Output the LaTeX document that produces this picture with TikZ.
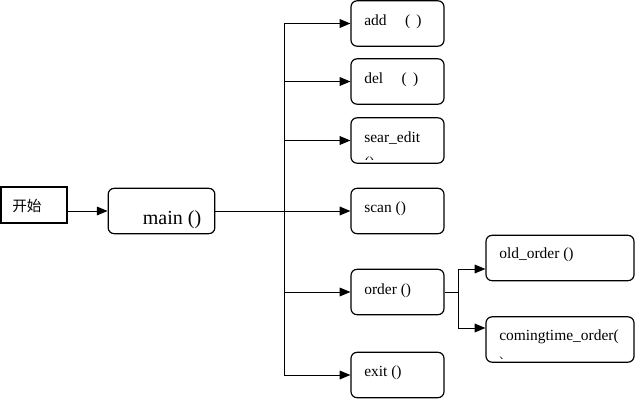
\documentclass[tikz,border=0pt]{standalone}
\usepackage{fontspec}
\setmainfont{Liberation Serif}
\newfontfamily\cjk{Noto Sans CJK SC}
\usetikzlibrary{arrows.meta}
\begin{document}
\begin{tikzpicture}[x=0.75pt,y=-0.75pt,
  box/.style={draw=black,line width=0.9pt,rounded corners=4.5pt,minimum width=69.75pt,minimum height=34pt,inner sep=0pt},
  wbox/.style={draw=black,line width=0.9pt,rounded corners=4.5pt,minimum width=111pt,minimum height=34pt,inner sep=0pt},
  lbl/.style={anchor=west,inner sep=0pt,font=\fontsize{11.6pt}{13pt}\selectfont},
  ln/.style={line width=0.75pt},
  arr/.style={line width=0.75pt,-{Triangle[length=8pt,width=6.5pt]}}]
\useasboundingbox (0,0) rectangle (636,400);
% start and main
\node[draw=black,line width=1.5pt,minimum width=49.5pt,minimum height=26.5pt,inner sep=0pt] (start) at (33.5,205) {};
\node[lbl,font=\cjk\fontsize{11pt}{13pt}\selectfont] (startt) at (12,206) {开始};
\node[box,minimum width=80pt] (main) at (161.5,211) {};
\node[inner sep=0pt,font=\fontsize{15pt}{17pt}\selectfont] (maint) at (172,220) {main ()};
% right column
\node[box] (add) at (397.5,23.5) {};
\node[box] (del) at (397.5,81.5) {};
\node[box] (sear) at (397.5,140.5) {};
\node[box] (scan) at (397.5,211) {};
\node[box] (order) at (397.5,292) {};
\node[box] (exit) at (397.5,375) {};
\node[lbl] (addt) at (364,21.5) {add\hspace{1.2em}(\hspace{0.4em})};
\node[lbl] (delt) at (364,79.5) {del\hspace{1.2em}(\hspace{0.4em})};
\node[lbl] (seart) at (364,138.5) {sear\_edit};
\node[lbl] (scant) at (364,208.5) {scan ()};
\node[lbl] (ordert) at (364,290.5) {order ()};
\node[lbl] (exitt) at (364,372.5) {exit ()};
% sub boxes
\node[wbox] (old) at (560,258) {};
\node[wbox] (come) at (560,339.5) {};
\node[lbl] (oldt) at (499,254.5) {old\_order ()};
\node[lbl] (comet) at (499,336.5) {comingtime\_order(};
% clipped wrapped lines
\begin{scope}
  \clip (355,150) rectangle (440,159.5);
  \node[lbl] (searw) at (364,164) {()};
\end{scope}
\begin{scope}
  \clip (490,350) rectangle (630,358);
  \node[lbl] (comew) at (499,364) {)};
\end{scope}
% connectors
\coordinate (j) at (284,211);
\draw[arr] (start.east |- main.west) -- (main.west);
\draw[ln] (main.east) -- (j);
\draw[ln] (j |- add.west) -- (j |- exit.west);
\foreach \b in {add,del,sear,scan,order,exit}
  \draw[arr] (j |- \b.west) -- (\b.west);
\coordinate (k) at (458,292);
\coordinate (ka) at (458,269);
\coordinate (kb) at (458,328);
\draw[ln] (order.east) -- (k);
\draw[ln] (ka) -- (kb);
\draw[arr] (ka) -- (ka -| old.west);
\draw[arr] (kb) -- (kb -| come.west);
\end{tikzpicture}
\end{document}
